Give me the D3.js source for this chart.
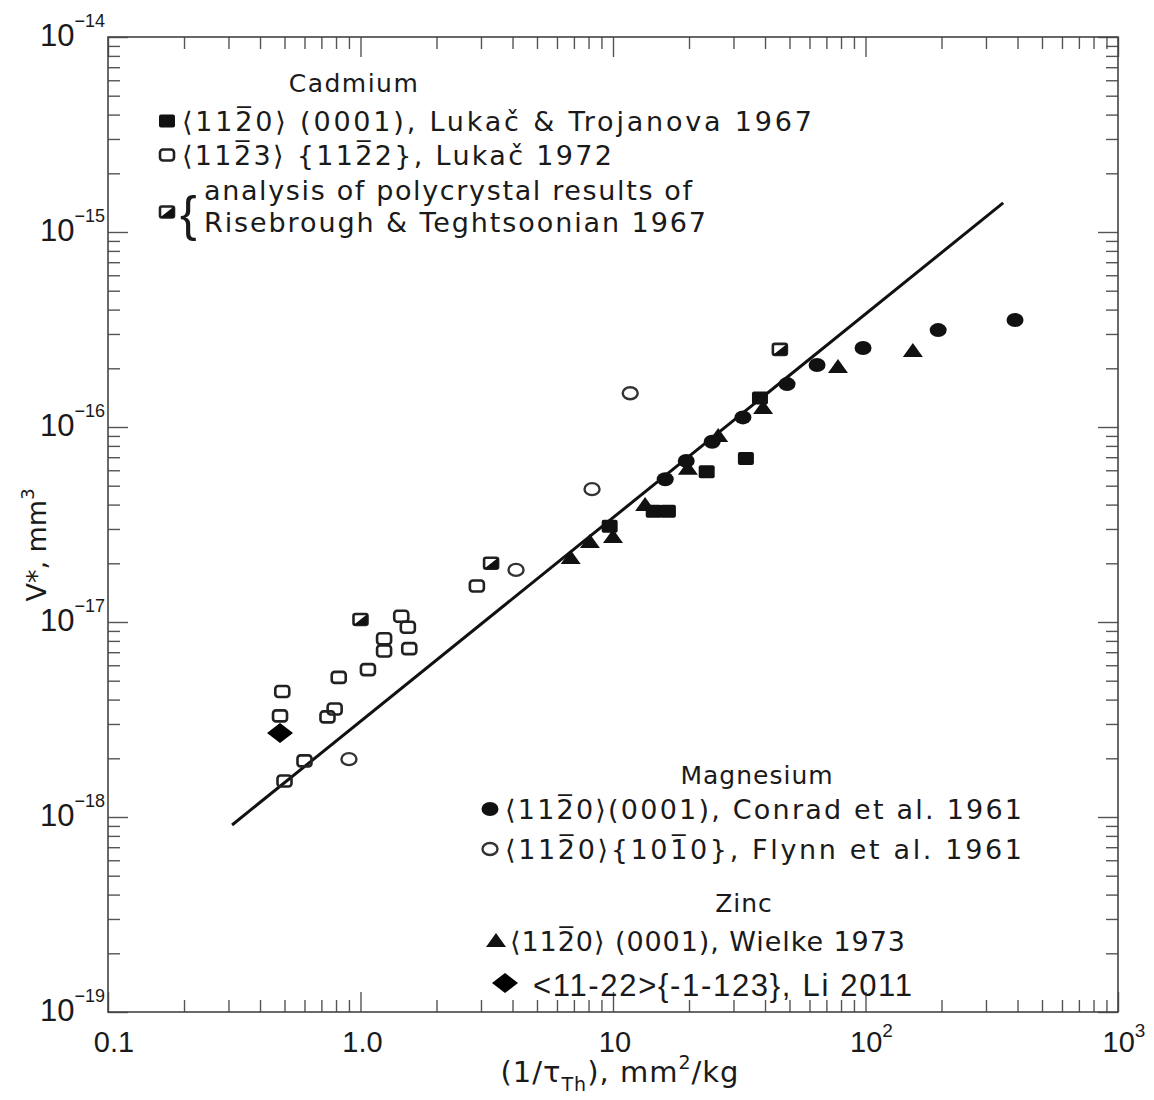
<!DOCTYPE html>
<html>
<head>
<meta charset="utf-8">
<script src="https://cdn.jsdelivr.net/npm/d3@7"></script>
<style>
  body { margin: 0; background: #fff; }
  text { font-family: "DejaVu Sans", sans-serif; fill: #1a1a1a; }
  .tick line { stroke: #555; stroke-width: 1.4px; }
  .li, .num { font-family: "Liberation Sans", Arial, sans-serif; }
</style>
</head>
<body>
<svg id="chart" width="1154" height="1100"></svg>
<script>
// values, [x = 1/tau_Th (mm^2/kg), y = V* (mm^3)]
let cd_lukac_trojanova = [[9.7, 3.1e-17], [14.5, 3.7e-17], [16.5, 3.7e-17], [23.5, 5.9e-17], [33.6, 6.9e-17], [38.2, 1.41e-16]]
let cd_lukac_1972 = [[0.49, 4.4e-18], [0.48, 3.3e-18], [0.50, 1.53e-18], [0.60, 1.94e-18], [0.74, 3.26e-18],
  [0.79, 3.58e-18], [0.82, 5.2e-18], [1.07, 5.7e-18], [1.24, 8.2e-18], [1.24, 7.1e-18],
  [1.45, 1.07e-17], [1.54, 9.4e-18], [1.56, 7.3e-18], [2.89, 1.53e-17]]
let cd_risebrough = [[1.0, 1.03e-17], [3.29, 2.0e-17], [45.8, 2.5e-16]]
let mg_conrad = [[16.1, 5.4e-17], [19.5, 6.7e-17], [24.7, 8.4e-17], [32.7, 1.12e-16], [48.9, 1.66e-16],
  [64.3, 2.08e-16], [97.8, 2.54e-16], [194, 3.14e-16], [391, 3.54e-16]]
let mg_flynn = [[0.90, 1.98e-18], [4.13, 1.85e-17], [8.26, 4.8e-17], [11.7, 1.49e-16]]
let zn_wielke = [[6.8, 2.13e-17], [8.1, 2.57e-17], [10.0, 2.73e-17], [13.4, 3.98e-17], [19.8, 6.1e-17],
  [26.1, 9.0e-17], [39.3, 1.25e-16], [77.8, 2.03e-16], [154, 2.45e-16]]
let li_2011 = [[0.48, 2.7e-18]]
let fit_line = [[0.31, 9.1e-19], [351, 1.41e-15]]

let x_decades = [0.1, 1, 10, 100, 1000]
let x_labels = [["0.1", ""], ["1.0", ""], ["10", ""], ["10", "2"], ["10", "3"]]
let y_decades = [1e-19, 1e-18, 1e-17, 1e-16, 1e-15, 1e-14]
let y_labels = ["19", "18", "17", "16", "15", "14"]

let width = 1154,
    height = 1100,
    margins = {left: 108, right: 36, top: 37, bottom: 88}

let svg = d3.select("#chart")

let scales = {
  x: d3.scaleLog().domain([0.1, 1000]).range([margins.left, width - margins.right]),
  y: d3.scaleLog().domain([1e-19, 1e-14]).range([height - margins.bottom, margins.top])
}

function minors(decades) {
  let out = []
  for (let i = 0; i < decades.length - 1; i++) {
    for (let k = 2; k <= 9; k++) out.push(decades[i] * k)
  }
  return out
}

function add_axes() {
  let x = scales.x, y = scales.y
  let bottom = height - margins.bottom, right = width - margins.right
  let axes = svg.append("g").attr("id", "axes")

  let sides = [
    [d3.axisBottom(x), `translate(0,${bottom})`, x_decades, minors(x_decades)],
    [d3.axisTop(x), `translate(0,${margins.top})`, x_decades, minors(x_decades)],
    [d3.axisLeft(y), `translate(${margins.left},0)`, y_decades, minors(y_decades)],
    [d3.axisRight(y), `translate(${right},0)`, y_decades, minors(y_decades)]
  ]
  sides.forEach(([ax, tr, major, minor]) => {
    axes.append("g").attr("transform", tr)
      .call(ax.tickValues(minor).tickSize(-12).tickFormat(""))
      .call(g => g.select(".domain").remove())
    axes.append("g").attr("transform", tr)
      .call(ax.tickValues(major).tickSize(-20).tickFormat(""))
      .call(g => g.select(".domain").remove())
  })

  axes.append("rect")
    .attr("x", margins.left).attr("y", margins.top)
    .attr("width", right - margins.left).attr("height", bottom - margins.top)
    .attr("fill", "none").attr("stroke", "#444").attr("stroke-width", 1.6)

  // x tick labels
  x_decades.forEach((d, i) => {
    let t = axes.append("text").attr("class", "num")
      .attr("x", x(d) + (i == 0 ? 6 : (x_labels[i][1] ? 6 : 2))).attr("y", bottom + 40)
      .attr("text-anchor", "middle").style("font-size", "29px")
    t.append("tspan").text(x_labels[i][0])
    if (x_labels[i][1]) t.append("tspan").attr("dy", -15).style("font-size", "19px").text(x_labels[i][1])
  })

  // y tick labels
  y_decades.forEach((d, i) => {
    let t = axes.append("text").attr("class", "num")
      .attr("x", 40).attr("y", y(d) + 9)
      .style("font-size", "31px")
    t.append("tspan").text("10")
    t.append("tspan").attr("dy", -19).style("font-size", "18px").text("\u2212" + y_labels[i])
  })

  // axis titles
  let xt = axes.append("text")
    .attr("x", 620).attr("y", 1082).attr("text-anchor", "middle")
    .style("font-size", "29px").style("letter-spacing", "1px")
  xt.append("tspan").text("(1/\u03c4")
  xt.append("tspan").attr("dy", 9).style("font-size", "19px").text("Th")
  xt.append("tspan").attr("dy", -9).text("), mm")
  xt.append("tspan").attr("dy", -13).style("font-size", "19px").text("2")
  xt.append("tspan").attr("dy", 13).text("/kg")

  let yt = axes.append("text")
    .attr("transform", `translate(46, 545) rotate(-90)`)
    .attr("text-anchor", "middle").style("font-size", "27px")
  yt.append("tspan").text("V*, mm")
  yt.append("tspan").attr("dy", -12).style("font-size", "18px").text("3")
}

// marker painters, drawn at (cx, cy)
let marks = {
  square_filled: (g, cx, cy) => g.append("rect").attr("x", cx - 8).attr("y", cy - 6.5)
    .attr("width", 16).attr("height", 13).attr("rx", 2).attr("fill", "#111"),
  square_open: (g, cx, cy) => g.append("rect").attr("x", cx - 7).attr("y", cy - 5.5)
    .attr("width", 14).attr("height", 11).attr("rx", 3)
    .attr("fill", "none").attr("stroke", "#222").attr("stroke-width", 2.6),
  square_half: (g, cx, cy) => {
    g.append("rect").attr("x", cx - 7).attr("y", cy - 5.5).attr("width", 14).attr("height", 11).attr("rx", 2)
      .attr("fill", "#fff").attr("stroke", "#222").attr("stroke-width", 2.6)
    g.append("path").attr("d", `M${cx - 7},${cy + 5.5}L${cx + 7},${cy - 5.5}L${cx + 7},${cy + 5.5}Z`).attr("fill", "#111")
  },
  circle_filled: (g, cx, cy) => g.append("ellipse").attr("cx", cx).attr("cy", cy)
    .attr("rx", 8.5).attr("ry", 7).attr("fill", "#111"),
  circle_open: (g, cx, cy) => g.append("ellipse").attr("cx", cx).attr("cy", cy)
    .attr("rx", 7.5).attr("ry", 6).attr("fill", "none").attr("stroke", "#333").attr("stroke-width", 2.4),
  triangle: (g, cx, cy) => g.append("path")
    .attr("d", `M${cx},${cy - 8}L${cx + 10},${cy + 6}L${cx - 10},${cy + 6}Z`).attr("fill", "#111"),
  diamond: (g, cx, cy) => g.append("path")
    .attr("d", `M${cx},${cy - 10}L${cx + 13},${cy}L${cx},${cy + 10}L${cx - 13},${cy}Z`).attr("fill", "#000")
}

function draw_points() {
  let g = svg.append("g").attr("id", "points")
  let series = [
    [cd_lukac_1972, "square_open"],
    [cd_risebrough, "square_half"],
    [mg_flynn, "circle_open"],
    [zn_wielke, "triangle"],
    [cd_lukac_trojanova, "square_filled"],
    [mg_conrad, "circle_filled"],
    [li_2011, "diamond"]
  ]
  series.forEach(([data, kind]) => {
    data.forEach(d => marks[kind](g, scales.x(d[0]), scales.y(d[1])))
  })
}

function draw_line() {
  let path_generator = d3.line()
    .x(d => scales.x(d[0]))
    .y(d => scales.y(d[1]))
  svg.append("path")
    .attr("d", path_generator(fit_line))
    .attr("fill", "none").attr("stroke", "#111").attr("stroke-width", 3)
}

// one legend line of text, stretched to the width it has in the picture
function line_text(g, x, y, txt, len) {
  return g.append("text").attr("x", x).attr("y", y)
    .style("font-size", "27px")
    .attr("textLength", len).attr("lengthAdjust", "spacing")
    .text(txt)
}

function legend() {
  let g = svg.append("g").attr("id", "legend")
  let bar = "\u0305"

  g.append("text").attr("x", 354).attr("y", 92).attr("text-anchor", "middle")
    .style("font-size", "25px").style("letter-spacing", "1.5px").text("Cadmium")
  marks.square_filled(g, 167, 121)
  line_text(g, 182, 131, `\u27e8112${bar}0\u27e9 (0001), Luka\u010d & Trojanova 1967`, 630)
  marks.square_open(g, 167, 155)
  line_text(g, 182, 165, `\u27e8112${bar}3\u27e9 {112${bar}2}, Luka\u010d 1972`, 430)
  marks.square_half(g, 167, 212)
  g.append("text").attr("class", "li").attr("x", 180).attr("y", 231)
    .style("font-size", "50px").text("{")
  line_text(g, 204, 200, "analysis of polycrystal results of", 488)
  line_text(g, 204, 232, "Risebrough & Teghtsoonian 1967", 502)

  g.append("text").attr("x", 757).attr("y", 784).attr("text-anchor", "middle")
    .style("font-size", "25px").style("letter-spacing", "1px").text("Magnesium")
  marks.circle_filled(g, 490, 809)
  line_text(g, 505, 819, `\u27e8112${bar}0\u27e9(0001), Conrad et al. 1961`, 517)
  marks.circle_open(g, 490, 849)
  line_text(g, 505, 859, `\u27e8112${bar}0\u27e9{101${bar}0}, Flynn et al. 1961`, 517)
  g.append("text").attr("x", 744).attr("y", 912).attr("text-anchor", "middle")
    .style("font-size", "25px").style("letter-spacing", "1px").text("Zinc")
  marks.triangle(g, 496, 941)
  line_text(g, 510, 951, `\u27e8112${bar}0\u27e9 (0001), Wielke 1973`, 395)
  marks.diamond(g, 505, 983)
  g.append("text").attr("class", "li").attr("x", 533).attr("y", 996).style("font-size", "31px")
    .attr("textLength", 379).attr("lengthAdjust", "spacing")
    .text("<11-22>{-1-123}, Li 2011")
}

add_axes()
draw_line()
draw_points()
legend()
</script>
</body>
</html>
